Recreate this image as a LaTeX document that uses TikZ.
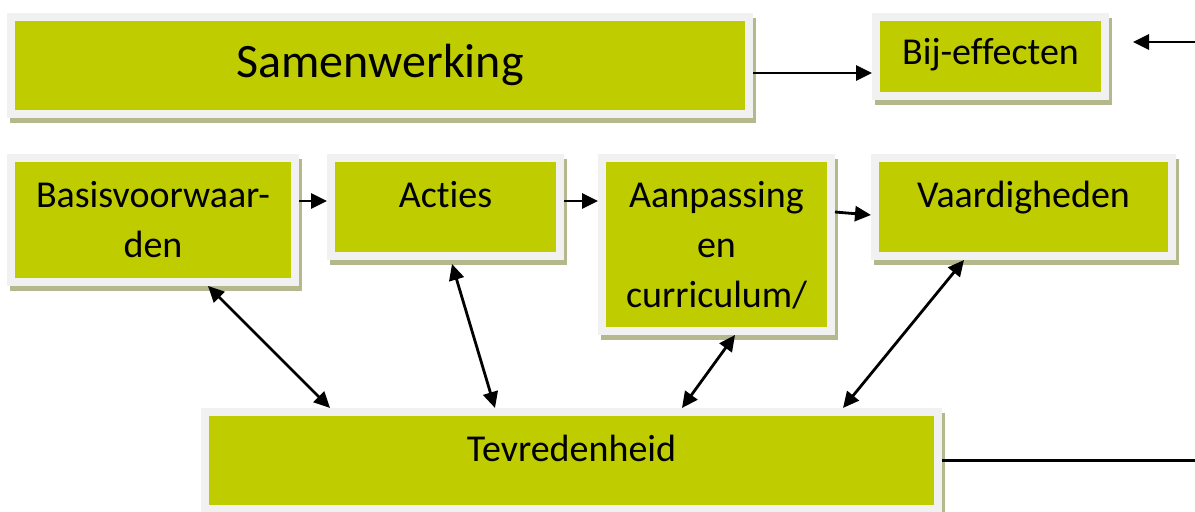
\documentclass[tikz,border=0pt]{standalone}
\usepackage{fontspec}
\setmainfont[Ligatures=NoCommon]{Carlito}
\usetikzlibrary{arrows.meta,backgrounds}
\definecolor{blokgroen}{RGB}{191,205,0}
\definecolor{randgrijs}{RGB}{241,241,241}
\definecolor{schaduw}{RGB}{180,184,140}
\begin{document}
\begin{tikzpicture}[x=0.5pt,y=-0.5pt,
		blok/.style={fill=blokgroen, draw=randgrijs, line width=4pt, inner sep=0pt, align=center,
			font=\fontsize{19}{25}\selectfont, text height=25pt},
		pijl/.style={line width=1.4pt, -{Triangle[length=8pt,width=7.5pt]}},
		dubbel/.style={line width=1.4pt, {Triangle[length=8pt,width=7.5pt]}-{Triangle[length=8pt,width=7.5pt]}}]
	\useasboundingbox (0,0) rectangle (1195,512);
	% bovenste rij
	\node[blok, text width=369pt, text height=30.5pt, text depth=18pt, font=\fontsize{24}{30}\selectfont] (sam) at (380,65.5) {Samenwerking};
	\node[blok, text width=114.5pt, text height=24pt, text depth=15.5pt] (bij) at (990.5,56.5) {Bij-effecten};
	% middelste rij
	\node[blok, text width=142pt, text depth=37pt] (bas) at (153,220) {Basisvoorwaar-\\den};
	\node[blok, text width=114.5pt, text depth=24pt] (act) at (445.5,207) {Acties};
	\node[blok, text width=114.5pt, text depth=61.5pt] (aan) at (716.5,244.5) {Aanpassing\\en\\curriculum/};
	\node[blok, text width=148.5pt, text depth=24pt] (vaa) at (1023.5,207) {Vaardigheden};
	% onderste rij
	\node[blok, text width=366.5pt, text depth=23.5pt] (tev) at (571.5,460.5) {Tevredenheid};
	\coordinate (rechtsboven) at (1195,42);
	\coordinate (pijlpunt) at (1133,42);
	\coordinate (rechtsonder) at (1195,460.5);
	% schaduwen
	\begin{scope}[on background layer]
		\foreach \n in {sam,bij,bas,act,aan,vaa,tev}
			\fill[schaduw] ([shift={(1.5pt,-2.5pt)}]\n.north west) rectangle ([shift={(1.5pt,-2.5pt)}]\n.south east);
	\end{scope}
	% pijlen
	\draw[pijl] ([yshift=-3.75pt]sam.east) -- ([yshift=-3.75pt]sam.east -| bij.west);
	\draw[pijl] (rechtsboven) -- (pijlpunt);
	\draw[pijl] ([yshift=3pt]act.west -| bas.east) -- ([yshift=3pt]act.west);
	\draw[pijl] ([yshift=3pt]act.east) -- ([yshift=3pt]act.east -| aan.west);
	\draw[pijl] ([yshift=-29pt]aan.north east) -- ([yshift=-4pt]vaa.west);
	\draw[dubbel] ([xshift=27.5pt]bas.south) -- ([xshift=-120.75pt]tev.north);
	\draw[dubbel] ([shift={(3.25pt,-2pt)}]act.south) -- ([xshift=-38.25pt]tev.north);
	\draw[dubbel] ([xshift=9.25pt]aan.south) -- ([xshift=55.25pt]tev.north);
	\draw[dubbel] ([xshift=-29.75pt]vaa.south) -- ([xshift=135.75pt]tev.north);
	\draw[line width=1.4pt] (tev.east) -- (tev.east -| rechtsonder);
\end{tikzpicture}
\end{document}
